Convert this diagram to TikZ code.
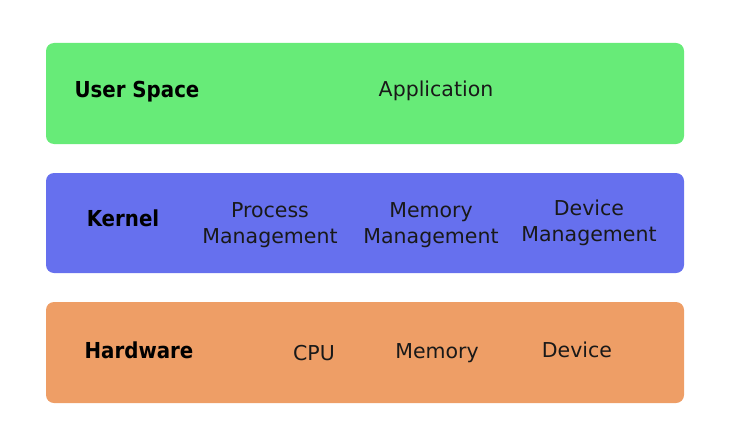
\documentclass[tikz,border=0pt]{standalone}
\usepackage{fontspec}
\setmainfont{DejaVu Sans}
\newfontfamily\layerfont{DejaVu Sans Condensed}[BoldFont={* Bold}]

\definecolor{userclr}{HTML}{67EB78}
\definecolor{kernelclr}{HTML}{6670EE}
\definecolor{hwclr}{HTML}{EE9E66}

\tikzset{
  layer/.style={rounded corners=8pt, draw=none},
  layername/.style={font=\layerfont\bfseries\fontsize{22}{26}\selectfont},
  part/.style={font=\fontsize{20.5}{26}\selectfont, align=center, text=black!90}
}

\begin{document}
\begin{tikzpicture}[x=1pt, y=-1pt]
        \useasboundingbox (0,0) rectangle (730,436);
        % the three layers
        \fill[layer, userclr] (46,43) rectangle (684,144);
        \fill[layer, kernelclr] (46,173) rectangle (684,273);
        \fill[layer, hwclr] (46,302) rectangle (684,403);
        % user space
        \node[layername] (user) at (137,92) {User Space};
        \node[part] (app) at (436,91) {Application};
        % kernel
        \node[layername] (kernel) at (123,218) {Kernel};
        \node[part] (procmgmt) at (270,225) {Process\\Management};
        \node[part] (memmgmt) at (431,225) {Memory\\Management};
        \node[part] (devmgmt) at (589,223) {Device\\Management};
        % hardware
        \node[layername] (hw) at (139,350) {Hardware};
        \node[part] (cpu) at (314,353) {CPU};
        \node[part] (mem) at (437,353) {Memory};
        \node[part] (dev) at (577,350) {Device};
    \end{tikzpicture}
\end{document}
